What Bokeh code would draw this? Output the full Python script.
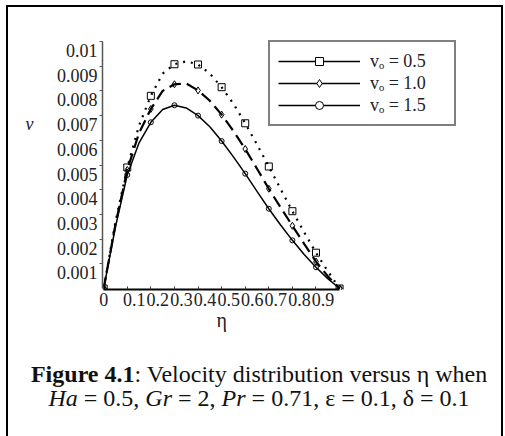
from bokeh.plotting import figure
from bokeh.layouts import column
from bokeh.models import (Range1d, LinearAxis, FixedTicker, Legend, LegendItem,
                          Label, CustomJSTickFormatter)
from bokeh.embed import file_html
from bokeh.resources import INLINE

# ---------------- data ----------------
eta = [0.0, 0.05, 0.1, 0.15, 0.2, 0.25, 0.3, 0.35, 0.4, 0.45, 0.5,
       0.55, 0.6, 0.65, 0.7, 0.75, 0.8, 0.85, 0.9, 0.95, 1.0]
v_05 = [0.0, 0.0027, 0.0049, 0.0066, 0.0078, 0.0087, 0.00908, 0.0092, 0.00907, 0.0087, 0.00815,
        0.00748, 0.00669, 0.00583, 0.00494, 0.00403, 0.00313, 0.00228, 0.00145, 0.0007, 0.0]
v_10 = [0.0, 0.0026, 0.0048, 0.0063, 0.00727, 0.0080, 0.00827, 0.0083, 0.00802, 0.0076, 0.00704,
        0.00638, 0.00565, 0.00485, 0.00404, 0.00328, 0.00254, 0.00181, 0.00109, 0.0005, 0.0]
v_15 = [0.0, 0.0025, 0.0046, 0.0059, 0.00673, 0.00725, 0.00742, 0.00731, 0.0070, 0.00655, 0.00597,
        0.00533, 0.00465, 0.00393, 0.00323, 0.00257, 0.00195, 0.00138, 0.00086, 0.0004, 0.0]
series_labels = ["v\u2092 = 0.5", "v\u2092 = 1.0", "v\u2092 = 1.5"]

x_ticks = [0, 0.1, 0.2, 0.3, 0.4, 0.5, 0.6, 0.7, 0.8, 0.9]
x_tick_labels = ["0", "0.1", "0.2", "0.3", "0.4", "0.5", "0.6", "0.7", "0.8", "0.9"]
y_ticks = [0.001, 0.002, 0.003, 0.004, 0.005, 0.006, 0.007, 0.008, 0.009, 0.01]
y_tick_labels = ["0.001", "0.002", "0.003", "0.004", "0.005", "0.006", "0.007", "0.008", "0.009", "0.01"]
x_title, y_title = "η", "v"
x_title_at, y_title_at = 0.5, 0.00668   # where the axis titles sit along their axes

FONT = "Liberation Serif"
TXT = "#222222"
SP = "\u00a0"

# ---------------- main figure ----------------
X0, X1 = -0.005, 1.555
Y0, Y1 = -0.00004, 0.010446
p = figure(width=493, height=338, x_range=Range1d(X0, X1), y_range=Range1d(Y0, Y1),
           output_backend="svg", toolbar_location=None,
           min_border_left=94, min_border_right=31, min_border_top=23, min_border_bottom=56)
p.xgrid.visible = False
p.ygrid.visible = False
p.outline_line_color = None
p.background_fill_color = "white"
p.border_fill_color = "white"

# x axis: line + ticks
xa = p.xaxis[0]
xa.ticker = FixedTicker(ticks=x_ticks)
xa.formatter = CustomJSTickFormatter(code="return ''")
xa.bounds = (0, 1)
xa.axis_line_color = "black"
xa.axis_line_width = 2
xa.major_tick_in = 3
xa.major_tick_out = 0
xa.major_tick_line_color = "#333333"
xa.minor_tick_line_color = None
xa.major_label_text_font_size = "1px"
xa.major_label_standoff = 0

# x tick labels, drawn a little to the right of their ticks (as in the reference)
dx = 0.0297
p.extra_x_ranges = {"xlab": Range1d(X0 - dx, X1 - dx)}
xl_ticks = [x_ticks[0] - dx] + x_ticks[1:]
xl = LinearAxis(x_range_name="xlab", ticker=FixedTicker(ticks=xl_ticks),
                major_label_overrides={t: s for t, s in zip(xl_ticks, x_tick_labels)},
                axis_line_color=None, major_tick_line_color=None, minor_tick_line_color=None,
                major_tick_out=0, major_tick_in=0, minor_tick_out=0, minor_tick_in=0,
                major_label_standoff=3, major_label_text_font=FONT,
                major_label_text_font_size="18px", major_label_text_color=TXT)
p.add_layout(xl, "below")

# x axis title, placed under the middle of the axis
xt = LinearAxis(ticker=FixedTicker(ticks=[x_title_at]),
                major_label_overrides={x_title_at: x_title},
                axis_line_color=None, major_tick_line_color=None, minor_tick_line_color=None,
                major_tick_out=0, major_tick_in=0, minor_tick_out=0, minor_tick_in=0,
                major_label_standoff=0, major_label_text_font=FONT,
                major_label_text_font_size="20px", major_label_text_color=TXT)
p.add_layout(xt, "below")

# y axis: line + ticks
ya = p.yaxis[0]
ya.ticker = FixedTicker(ticks=y_ticks)
ya.formatter = CustomJSTickFormatter(code="return ''")
ya.bounds = (0, 0.01)
ya.axis_line_color = "#555555"
ya.axis_line_width = 1.5
ya.major_tick_out = 3
ya.major_tick_in = 0
ya.major_tick_line_color = "#555555"
ya.minor_tick_line_color = None
ya.major_label_standoff = 0

# y axis tick labels (drawn slightly below their ticks, as in the reference)
d = 0.000364
p.extra_y_ranges = {"lab": Range1d(Y0 + d, Y1 + d)}
la = LinearAxis(y_range_name="lab", ticker=FixedTicker(ticks=y_ticks),
                major_label_overrides={t: s for t, s in zip(y_ticks, y_tick_labels)},
                axis_line_color=None, major_tick_line_color=None, minor_tick_line_color=None,
                major_tick_out=0, major_tick_in=0, minor_tick_out=0, minor_tick_in=0,
                major_label_standoff=2, major_label_text_font=FONT,
                major_label_text_font_size="18px", major_label_text_color=TXT)
p.add_layout(la, "left")

# y axis title (horizontal italic v)
yt = LinearAxis(ticker=FixedTicker(ticks=[y_title_at]),
                major_label_overrides={y_title_at: y_title},
                axis_line_color=None, major_tick_line_color=None, minor_tick_line_color=None,
                major_tick_out=0, major_tick_in=0, minor_tick_out=0, minor_tick_in=0,
                major_label_standoff=20, major_label_text_font=FONT,
                major_label_text_font_style="italic",
                major_label_text_font_size="18px", major_label_text_color=TXT)
p.add_layout(yt, "left")

# ---------------- curves ----------------
p.line(eta, v_05, line_color="black", line_width=2.2, line_dash="2 6")
p.line(eta, v_10, line_color="black", line_width=2.2, line_dash="12 6")
p.line(eta, v_15, line_color="black", line_width=1.5)

p.scatter(eta[::2], v_05[::2], marker="square", size=7, fill_color=None,
          line_color="black", line_width=1)
p.scatter(eta[::2], v_10[::2], marker="diamond", size=7, fill_color=None,
          line_color="black", line_width=1)
p.scatter(eta[::2], v_15[::2], marker="circle", size=5, fill_color=None,
          line_color="black", line_width=1)

# ---------------- legend ----------------
nan = float("nan")
items = []
for lab, mk, sz in zip(series_labels, ["square", "diamond", "circle"], [10, 12, 9]):
    rl = p.line(x=[nan], y=[nan], line_color="black", line_width=1.5)
    rm = p.scatter(x=[nan], y=[nan], marker=mk, size=sz, fill_color="white",
                   line_color="black", line_width=1)
    items.append(LegendItem(label=lab, renderers=[rl, rm]))
legend = Legend(items=items, location=(166, 163), orientation="vertical",
                border_line_color="black", border_line_width=2,
                background_fill_color="white", background_fill_alpha=1.0,
                padding=8, spacing=0, margin=0, glyph_width=82, glyph_height=20,
                label_height=22, label_width=76, label_standoff=10,
                label_text_font=FONT, label_text_font_size="18px",
                label_text_color=TXT)
p.add_layout(legend)

# ---------------- caption (separate panel under the plot) ----------------
cap = figure(width=493, height=91, x_range=Range1d(0, 493), y_range=Range1d(0, 91),
             output_backend="svg", toolbar_location=None, x_axis_type=None, y_axis_type=None,
             min_border=0)
cap.xgrid.visible = False
cap.ygrid.visible = False
cap.outline_line_color = None
cap.background_fill_color = "white"
cap.border_fill_color = "white"
for fig in (p, cap):
    try:
        fig.frame_align = False
    except Exception:
        pass


def cap_text(x, y, text, style="normal", align="left"):
    cap.add_layout(Label(x=x, y=y, text=text, text_font=FONT, text_font_size="24px",
                         text_font_style=style, text_align=align, text_baseline="middle",
                         text_color="#111111"))


cap_text(126, 63, "Figure 4.1", "bold", "right")
cap_text(126, 63, ": Velocity distribution versus η when")
cap_text(69.3, 39, "Ha", "italic", "right")
cap_text(69.3, 39, SP + "=" + SP + "0.5," + SP)
cap_text(163.5, 39, "Gr", "italic", "right")
cap_text(163.5, 39, SP + "=" + SP + "2," + SP)
cap_text(237.1, 39, "Pr", "italic", "right")
cap_text(237.1, 39, SP + "=" + SP + "0.71," + SP + "ε" + SP + "=" + SP + "0.1,"
         + SP + "δ" + SP + "=" + SP + "0.1")

layout = column(p, cap, spacing=0)
layout.styles = {"border-left": "2px solid black", "border-top": "2px solid black",
                 "border-right": "2px solid black"}
layout.margin = (5, 0, 0, 6)

open("out.html", "w").write(file_html(layout, INLINE))
